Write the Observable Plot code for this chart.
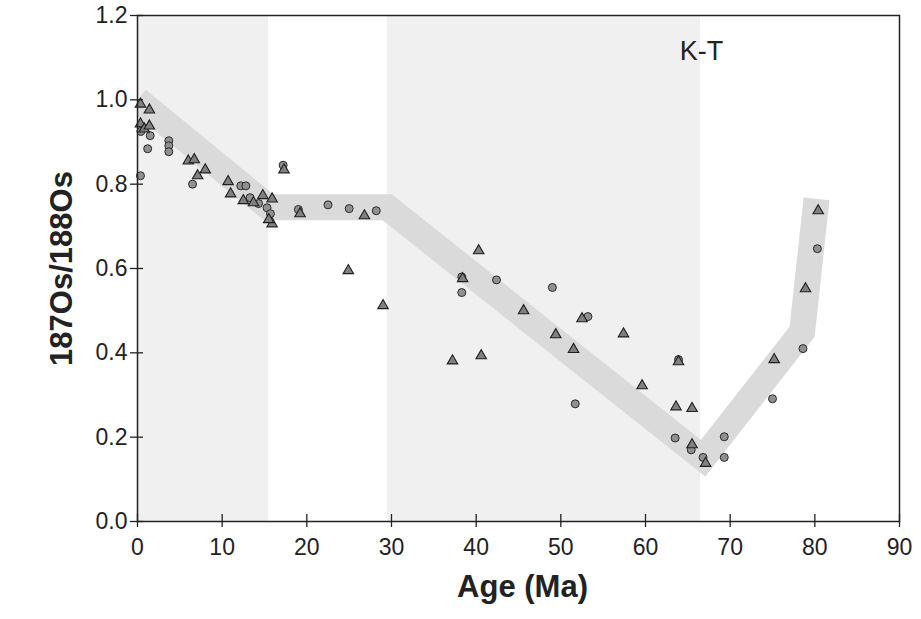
<!DOCTYPE html>
<html><head><meta charset="utf-8">
<script src="https://cdn.jsdelivr.net/npm/d3@7"></script>
<script src="https://cdn.jsdelivr.net/npm/@observablehq/plot@0.6"></script>
<style>
html,body{margin:0;padding:0;background:#fff;}
#chart svg{display:block;}
</style></head><body><div id="chart"></div>
<script>
// Axis ticks
const xTicks = [0, 10, 20, 30, 40, 50, 60, 70, 80, 90];
const yTicks = [0, 0.2, 0.4, 0.6, 0.8, 1.0, 1.2];
const xDomain = [0, 90];
const yDomain = [0, 1.2];

// Shaded age intervals (Ma)
const shadeStart = [0, 29.5];
const shadeEnd = [15.5, 66.5];

// Trend band vertices
const bandAge = [0, 15.5, 29.5, 66.8, 78.5, 80.2];
const bandRatio = [1.0, 0.745, 0.745, 0.15, 0.45, 0.765];

// Circle symbols
const circleAge = [0.35, 0.4, 1.5, 1.2, 3.7, 3.7, 3.7, 6.5, 12.2, 12.8, 13.3, 14.3, 15.3, 15.7, 17.2, 19.0, 22.5, 25.0, 28.2,
  38.3, 38.3, 42.4, 49.0, 53.2, 51.7, 63.9, 63.5, 65.4, 66.8, 69.3, 69.3, 75.0, 78.6, 80.3];
const circleRatio = [0.82, 0.925, 0.915, 0.884, 0.903, 0.891, 0.877, 0.80, 0.796, 0.796, 0.768, 0.754, 0.744, 0.73, 0.845, 0.74, 0.751, 0.742, 0.737,
  0.58, 0.543, 0.573, 0.555, 0.486, 0.279, 0.384, 0.198, 0.170, 0.152, 0.201, 0.152, 0.291, 0.41, 0.647];

// Triangle symbols
const triAge = [0.35, 1.4, 0.35, 0.8, 1.4, 6.0, 6.7, 7.1, 8.0, 10.7, 11.0, 12.5, 13.7, 14.8, 15.9, 15.9, 15.5, 17.3, 19.2, 26.8, 24.9, 29.0,
  40.3, 38.4, 45.6, 52.5, 49.4, 51.5, 37.2, 40.6, 57.4, 63.9, 59.6, 63.6, 65.5, 65.5, 67.1, 75.2, 78.9, 80.4];
const triRatio = [0.99, 0.976, 0.943, 0.931, 0.938, 0.855, 0.858, 0.82, 0.834, 0.806, 0.777, 0.761, 0.756, 0.773, 0.765, 0.706, 0.716, 0.834, 0.73, 0.725, 0.595, 0.512,
  0.642, 0.576, 0.50, 0.481, 0.443, 0.408, 0.381, 0.393, 0.445, 0.379, 0.322, 0.272, 0.268, 0.182, 0.138, 0.384, 0.552, 0.737];

// Annotation
const noteText = ["K-T"];
const noteAge = [66.6];
const noteRatio = [1.116];

const xTitle = "Age (Ma)";
const yTitle = "187Os/188Os";

const shades = shadeStart.map((s, i) => ({x1: s, x2: shadeEnd[i]}));
const band = bandAge.map((a, i) => ({age: a, ratio: bandRatio[i]}));
const circles = circleAge.map((a, i) => ({age: a, ratio: circleRatio[i]}));
const tris = triAge.map((a, i) => ({age: a, ratio: triRatio[i]}));
const notes = noteText.map((t, i) => ({t, age: noteAge[i], ratio: noteRatio[i]}));

const ink = "#222";
const plot = Plot.plot({
  width: 921,
  height: 619,
  marginLeft: 137,
  marginRight: 22,
  marginTop: 15,
  marginBottom: 98,
  style: {fontFamily: "'Liberation Sans', Arial, Helvetica, sans-serif", background: "#fff", color: ink},
  x: {domain: xDomain},
  y: {domain: yDomain},
  marks: [
    Plot.rect(shades, {x1: "x1", x2: "x2", y1: yDomain[0], y2: yDomain[1], fill: "#f0f0f0"}),
    Plot.line(band, {x: "age", y: "ratio", stroke: "#dadada", strokeWidth: 26, strokeLinejoin: "miter", strokeMiterlimit: 4, strokeLinecap: "butt", clip: true}),
    Plot.dot(circles, {x: "age", y: "ratio", symbol: "circle", r: 4, fill: "#909090", stroke: "#2a2a2a", strokeWidth: 1}),
    Plot.dot(tris, {x: "age", y: "ratio", symbol: "triangle", r: 3.9, fill: "#808080", stroke: "#1e1e1e", strokeWidth: 1.1}),
    Plot.text(notes, {x: "age", y: "ratio", text: "t", fontSize: 27, fill: ink}),
    Plot.frame({stroke: ink, strokeWidth: 1.5}),
    Plot.axisX(xTicks, {anchor: "bottom", tickSize: 13, dy: -7, text: null, label: null, stroke: ink, strokeWidth: 1.3}),
    Plot.axisX(xTicks, {anchor: "bottom", tickSize: 0, tickPadding: 17, fontSize: 23, label: null, fill: ink}),
    Plot.axisY(yTicks, {anchor: "left", tickSize: 13, dx: 6, text: null, label: null, stroke: ink, strokeWidth: 1.3}),
    Plot.axisY(yTicks, {anchor: "left", tickSize: 0, tickPadding: 10, fontSize: 23, label: null, fill: ink, tickFormat: d3.format(".1f")}),
    Plot.text([yTitle], {frameAnchor: "left", dx: -75, rotate: -90, textAnchor: "middle", fontSize: 31, fontWeight: "bold", fill: ink}),
    Plot.text([xTitle], {frameAnchor: "bottom", dy: 75, dx: 4, textAnchor: "middle", fontSize: 31, fontWeight: "bold", fill: ink})
  ]
});
document.getElementById("chart").appendChild(plot);
</script>
</body></html>
